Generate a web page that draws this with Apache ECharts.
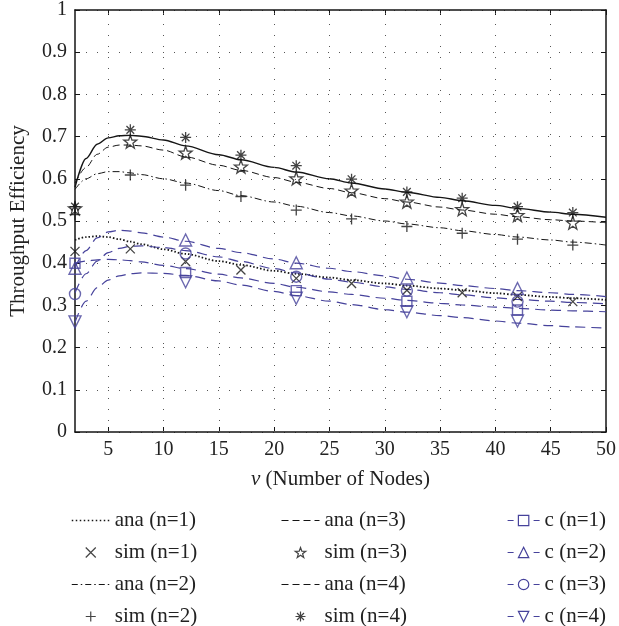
<!DOCTYPE html>
<html><head><meta charset="utf-8">
<script src="https://cdn.jsdelivr.net/npm/echarts@6/dist/echarts.min.js"></script>
<style>html,body{margin:0;padding:0;background:#fff}#c{width:619px;height:626px}</style>
</head><body><div id="c"></div>
<script>
// ---- data ----
const xs   = [2,3,4,5,6,7,8,10,12,15,17,20,22,25,27,30,32,35,37,40,42,45,47,50];
const ana1 = [0.455,0.462,0.464,0.462,0.457,0.451,0.445,0.433,0.422,0.405,0.396,0.382,0.375,0.366,0.360,0.352,0.347,0.340,0.336,0.329,0.325,0.320,0.317,0.313];
const ana2 = [0.575,0.600,0.612,0.617,0.617,0.614,0.610,0.600,0.590,0.572,0.560,0.545,0.535,0.520,0.512,0.500,0.493,0.484,0.477,0.468,0.462,0.455,0.450,0.443];
const ana3 = [0.590,0.627,0.658,0.675,0.680,0.680,0.678,0.668,0.652,0.632,0.620,0.603,0.592,0.577,0.567,0.553,0.545,0.533,0.526,0.516,0.510,0.503,0.500,0.496];
const ana4 = [0.580,0.648,0.682,0.697,0.702,0.703,0.701,0.692,0.678,0.657,0.645,0.627,0.616,0.600,0.590,0.576,0.568,0.556,0.548,0.537,0.530,0.521,0.516,0.509];
const c1   = [0.400,0.405,0.408,0.409,0.408,0.406,0.403,0.395,0.387,0.374,0.365,0.352,0.343,0.332,0.326,0.317,0.312,0.305,0.301,0.296,0.293,0.289,0.287,0.285];
const c2   = [0.390,0.430,0.460,0.474,0.478,0.476,0.472,0.462,0.452,0.435,0.425,0.410,0.400,0.388,0.380,0.370,0.362,0.353,0.347,0.340,0.335,0.330,0.326,0.321];
const c3   = [0.330,0.375,0.405,0.425,0.435,0.440,0.441,0.437,0.430,0.415,0.404,0.387,0.377,0.362,0.355,0.344,0.338,0.330,0.325,0.318,0.314,0.310,0.307,0.304];
const c4   = [0.260,0.310,0.342,0.360,0.370,0.375,0.377,0.376,0.371,0.358,0.348,0.333,0.323,0.310,0.302,0.290,0.284,0.276,0.271,0.263,0.258,0.252,0.249,0.246];

const simX = [2,7,12,17,22,27,32,37,42,47];
const sim1 = [0.428,0.434,0.404,0.384,0.364,0.352,0.336,0.330,0.321,0.309];
const sim2 = [0.515,0.609,0.585,0.558,0.526,0.505,0.487,0.471,0.457,0.443];
const sim3 = [0.530,0.688,0.662,0.629,0.601,0.572,0.546,0.528,0.514,0.496];
const sim4 = [0.534,0.716,0.698,0.656,0.631,0.599,0.569,0.554,0.534,0.520];

const cX  = [2,12,22,32,42];
const cm1 = [0.400,0.378,0.335,0.310,0.289];
const cm2 = [0.388,0.455,0.401,0.365,0.340];
const cm3 = [0.327,0.423,0.368,0.335,0.309];
const cm4 = [0.261,0.356,0.317,0.285,0.263];

const xTicks = [5,10,15,20,25,30,35,40,45,50];
const xGrid  = [5,10,15,20,25,30,35,40,45];

// ---- styles ----
const BLUE = '#46429b';
const INK = '#151515';
const FONT = 'Liberation Serif';
const STAR = 'path://M10,0 L12.35,6.76 L19.51,6.91 L13.8,11.24 L15.88,18.09 L10,14 L4.12,18.09 L6.2,11.24 L0.49,6.91 L7.65,6.76 Z';
const CROSS = 'path://M0,0 L10,10 M10,0 L0,10';
const PLUS = 'path://M5,0 L5,10 M0,5 L10,5';
const AST = 'path://M10,0 L10,20 M0,10 L20,10 M3,3 L17,17 M17,3 L3,17';
const GRIDSTYLE = {color:'#555', width:1, type:[1,10]};
const CLEAR = 'rgba(0,0,0,0)';

function pairs(xa, ya){ return xa.map((x,i)=>[x, ya[i]]); }

function anaLine(name, ys, lineStyle, extra){
  return Object.assign({
    name, type:'line', data:pairs(xs, ys), symbol:'none', smooth:0.3, smoothMonotone:'x',
    lineStyle:Object.assign({color:INK}, lineStyle), itemStyle:{color:INK}, z:3
  }, extra||{});
}
function simPts(name, ys, symbol, size){
  return {name, type:'scatter', data:pairs(simX, ys), symbol, symbolSize:size,
    itemStyle:{color:CLEAR, borderColor:INK, borderWidth:1.3}, z:5};
}
function cLine(name, ys, symbol, rot){
  return {name, type:'line', data:pairs(xs, ys), symbol, symbolRotate:rot||0, showSymbol:false, symbolSize:10,
    smooth:0.3, smoothMonotone:'x',
    lineStyle:{color:BLUE, width:1.2, type:[10,6]}, itemStyle:{color:CLEAR, borderColor:BLUE, borderWidth:1.3}, z:3};
}
function cPts(name, ys, symbol, size, rot){
  return {name, type:'scatter', data:pairs(cX, ys), symbol, symbolSize:size, symbolRotate:rot||0,
    itemStyle:{color:CLEAR, borderColor:BLUE, borderWidth:1.4}, z:6};
}

const series = [
  anaLine('ana (n=1)', ana1, {width:1.8, type:[1.5,2]}, {
    markLine:{silent:true, symbol:['none','none'], label:{show:false}, lineStyle:GRIDSTYLE,
      emphasis:{disabled:true}, data:xGrid.map(v=>({xAxis:v}))}
  }),
  anaLine('ana (n=2)', ana2, {width:1, type:[7,3,1.5,3]}),
  anaLine('ana (n=3)', ana3, {width:1, type:[7,4]}),
  anaLine('ana (n=4)', ana4, {width:1.4, type:'solid'}),
  cLine('c (n=1)', c1, 'rect'),
  cLine('c (n=2)', c2, 'triangle'),
  cLine('c (n=3)', c3, 'circle'),
  cLine('c (n=4)', c4, 'triangle', 180),
  simPts('sim (n=1)', sim1, CROSS, 9),
  simPts('sim (n=2)', sim2, PLUS, 11),
  simPts('sim (n=3)', sim3, STAR, 13),
  simPts('sim (n=4)', sim4, AST, 11),
  cPts('c (n=1)', cm1, 'rect', 10),
  cPts('c (n=2)', cm2, 'triangle', 12),
  cPts('c (n=3)', cm3, 'circle', 11),
  cPts('c (n=4)', cm4, 'triangle', 12, 180)
];

const legText = {fontFamily:FONT, fontSize:21, color:'#222', lineHeight:21};
function leg(left, data, ih, iw){
  return {left, top:510, height:140, orient:'vertical', itemWidth:iw||38, itemHeight:ih, itemGap:11, padding:0,
    selectedMode:false, textStyle:legText, data};
}
const hideSym = {opacity:0};
const simLegStyle = {color:CLEAR, borderColor:INK, borderWidth:1.2};
const cLegItem = name => ({name, itemStyle:{color:CLEAR, borderColor:BLUE, borderWidth:1.2}, lineStyle:{color:BLUE, width:1.2, type:[6,20]}});

const axisFont = {fontFamily:FONT, fontSize:20, color:'#222'};

const option = {
  animation:false,
  backgroundColor:'#fff',
  grid:{left:72, right:12, top:9, bottom:194, containLabel:false},
  xAxis:[
    {type:'value', position:'bottom', min:2, max:50,
     name:'{i|ν} (Number of Nodes)', nameLocation:'middle', nameGap:37,
     nameTextStyle:{fontFamily:FONT, fontSize:21, color:'#222', rich:{i:{fontFamily:FONT, fontSize:21, fontStyle:'italic', color:'#222'}}},
     axisLine:{show:true, onZero:false, lineStyle:{color:INK, width:1.5}},
     axisTick:{show:true, inside:true, length:5, customValues:xTicks, lineStyle:{color:INK, width:1}},
     axisLabel:{show:true, margin:8, customValues:xTicks, ...axisFont},
     splitLine:{show:false}},
    {type:'value', position:'top', min:2, max:50,
     axisLine:{show:true, onZero:false, lineStyle:{color:INK, width:1.5}},
     axisTick:{show:true, inside:true, length:5, customValues:xTicks, lineStyle:{color:INK, width:1}},
     axisLabel:{show:false}, splitLine:{show:false}}
  ],
  yAxis:[
    {type:'value', position:'left', min:0, max:1, interval:0.1,
     name:'Throughput Efficiency', nameLocation:'middle', nameGap:46, nameRotate:90,
     nameTextStyle:{fontFamily:FONT, fontSize:21, color:'#222'},
     axisLine:{show:true, onZero:false, lineStyle:{color:INK, width:1.5}},
     axisTick:{show:true, inside:true, length:5, lineStyle:{color:INK, width:1}},
     axisLabel:{show:true, margin:8, ...axisFont},
     splitLine:{show:true, lineStyle:GRIDSTYLE}},
    {type:'value', position:'right', min:0, max:1, interval:0.1,
     axisLine:{show:true, onZero:false, lineStyle:{color:INK, width:1.5}},
     axisTick:{show:true, inside:true, length:5, lineStyle:{color:INK, width:1}},
     axisLabel:{show:false}, splitLine:{show:false}}
  ],
  legend:[
    leg(71, [
      {name:'ana (n=1)', itemStyle:hideSym, lineStyle:{color:INK, width:1.5, type:[1.5,2.5]}},
      {name:'sim (n=1)', itemStyle:simLegStyle},
      {name:'ana (n=2)', itemStyle:hideSym, lineStyle:{color:INK, width:1, type:[6,3,1.5,3]}},
      {name:'sim (n=2)', itemStyle:simLegStyle}
    ], 10),
    leg(281, [
      {name:'ana (n=3)', itemStyle:hideSym, lineStyle:{color:INK, width:1, type:[7,4]}},
      {name:'sim (n=3)', itemStyle:simLegStyle},
      {name:'ana (n=4)', itemStyle:hideSym, lineStyle:{color:INK, width:1, type:[7,4]}},
      {name:'sim (n=4)', itemStyle:simLegStyle}
    ], 10),
    leg(507, [cLegItem('c (n=1)'), cLegItem('c (n=2)'), cLegItem('c (n=3)'), cLegItem('c (n=4)')], 13, 32)
  ],
  series
};

const chart = echarts.init(document.getElementById('c'), null, {renderer:'canvas'});
chart.setOption(option);
</script>
</body></html>
